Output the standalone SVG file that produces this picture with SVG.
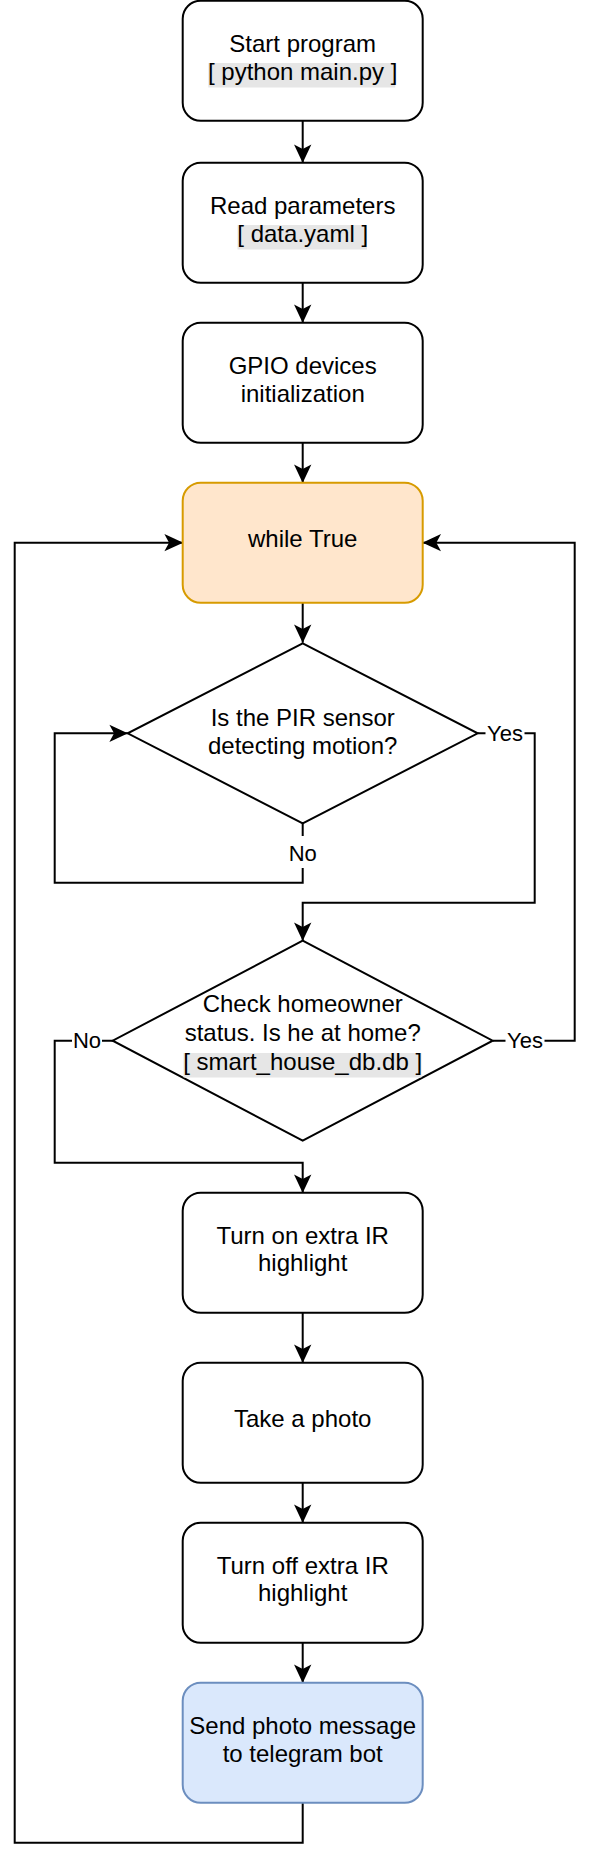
<svg xmlns="http://www.w3.org/2000/svg" width="594" height="1862" viewBox="0 0 594 1862">
<style>
  .box{fill:#ffffff;stroke:#000000;stroke-width:2}
  .orange{fill:#ffe6cc;stroke:#d79b00;stroke-width:2}
  .blue{fill:#dae8fc;stroke:#6c8ebf;stroke-width:2}
  .t{font-family:"Liberation Sans",Arial,Helvetica,sans-serif;font-size:24px;fill:#000000;text-anchor:middle}
  .lbl{font-family:"Liberation Sans",Arial,Helvetica,sans-serif;font-size:22px;fill:#000000;text-anchor:middle}
  .hl{fill:#e6e6e6;stroke:none}
  .lblbg{fill:#ffffff;stroke:none}
  .edge{fill:none;stroke:#000000;stroke-width:2;stroke-linejoin:miter}
  .arr{marker-end:url(#arrow)}
</style>
<defs>
  <marker id="arrow" markerUnits="userSpaceOnUse" markerWidth="20" markerHeight="20" viewBox="-19 -10 20 20" refX="0" refY="0" orient="auto" overflow="visible">
    <path d="M-2,0 L-16,-6.5 L-12.5,0 L-16,6.5 Z" fill="#000000" stroke="#000000" stroke-width="2" stroke-linejoin="miter"/>
  </marker>
</defs>
<rect x="0" y="0" width="594" height="1862" fill="#ffffff"/>

<g id="connectors">
  <path class="edge arr" d="M302.7,120.7 V162.7"/>
  <path class="edge arr" d="M302.7,282.7 V322.7"/>
  <path class="edge arr" d="M302.7,442.7 V482.7"/>
  <path class="edge arr" d="M302.7,602.7 V642.7"/>
  <path class="edge arr" d="M302.7,823.7 V882.7 H54.7 V733.3 H127.7"/>
  <path class="edge arr" d="M477.7,733.3 H534.7 V902.7 H302.7 V940.7"/>
  <path class="edge arr" d="M113.3,1040.7 H54.7 V1162.7 H302.7 V1192.7"/>
  <path class="edge arr" d="M493,1040.7 H574.7 V542.7 H422.7"/>
  <path class="edge arr" d="M302.7,1312.7 V1362.7"/>
  <path class="edge arr" d="M302.7,1482.7 V1522.7"/>
  <path class="edge arr" d="M302.7,1642.7 V1682.7"/>
  <path class="edge arr" d="M302.7,1802.7 V1842.7 H14.7 V542.7 H182.7"/>
  <g id="edge-labels">
    <rect class="lblbg" x="287.7" y="836" width="30" height="32"/>
    <text class="lbl" x="302.7" y="860.5">No</text>
    <rect class="lblbg" x="485.5" y="720" width="39" height="26"/>
    <text class="lbl" x="505" y="740.5">Yes</text>
    <rect class="lblbg" x="72" y="1028" width="30" height="26"/>
    <text class="lbl" x="87" y="1048">No</text>
    <rect class="lblbg" x="505.5" y="1028" width="39" height="26"/>
    <text class="lbl" x="525" y="1048">Yes</text>
  </g>
</g>

<g id="start">
  <rect class="box" x="182.7" y="0.7" width="240" height="120" rx="18" ry="18"/>
  <text class="t" x="302.7" y="51.7">Start program</text>
  <rect class="hl" x="208.3" y="63" width="187" height="24.5"/>
  <text class="t" x="302.7" y="80.2">[ python main.py ]</text>
</g>

<g id="read-params">
  <rect class="box" x="182.7" y="162.7" width="240" height="120" rx="18" ry="18"/>
  <text class="t" x="302.7" y="213.7">Read parameters</text>
  <rect class="hl" x="237.5" y="225" width="129.5" height="24.5"/>
  <text class="t" x="302.7" y="242.2">[ data.yaml ]</text>
</g>

<g id="gpio-init">
  <rect class="box" x="182.7" y="322.7" width="240" height="120" rx="18" ry="18"/>
  <text class="t" x="302.7" y="373.7">GPIO devices</text>
  <text class="t" x="302.7" y="401.7">initialization</text>
</g>

<g id="while-true">
  <rect class="orange" x="182.7" y="482.7" width="240" height="120" rx="18" ry="18"/>
  <text class="t" x="302.7" y="547.4">while True</text>
</g>

<g id="pir-check">
  <polygon class="box" points="302.7,643.3 477.7,733.3 302.7,823.3 127.7,733.3"/>
  <text class="t" x="302.7" y="726">Is the PIR sensor</text>
  <text class="t" x="302.7" y="753.5">detecting motion?</text>
</g>

<g id="homeowner-check">
  <polygon class="box" points="302.7,940.7 492.7,1040.7 302.7,1140.7 112.7,1040.7"/>
  <text class="t" x="302.7" y="1012.3">Check homeowner</text>
  <text class="t" x="302.7" y="1041">status. Is he at home?</text>
  <rect class="hl" x="183.5" y="1053" width="238" height="24.5"/>
  <text class="t" x="302.7" y="1070">[ smart_house_db.db ]</text>
</g>

<g id="ir-on">
  <rect class="box" x="182.7" y="1192.7" width="240" height="120" rx="18" ry="18"/>
  <text class="t" x="302.7" y="1243.5">Turn on extra IR</text>
  <text class="t" x="302.7" y="1271">highlight</text>
</g>

<g id="take-photo">
  <rect class="box" x="182.7" y="1362.7" width="240" height="120" rx="18" ry="18"/>
  <text class="t" x="302.7" y="1427.4">Take a photo</text>
</g>

<g id="ir-off">
  <rect class="box" x="182.7" y="1522.7" width="240" height="120" rx="18" ry="18"/>
  <text class="t" x="302.7" y="1573.5">Turn off extra IR</text>
  <text class="t" x="302.7" y="1601">highlight</text>
</g>

<g id="send-telegram">
  <rect class="blue" x="182.7" y="1682.7" width="240" height="120" rx="18" ry="18"/>
  <text class="t" x="302.7" y="1733.5">Send photo message</text>
  <text class="t" x="302.7" y="1761.5">to telegram bot</text>
</g>
</svg>
